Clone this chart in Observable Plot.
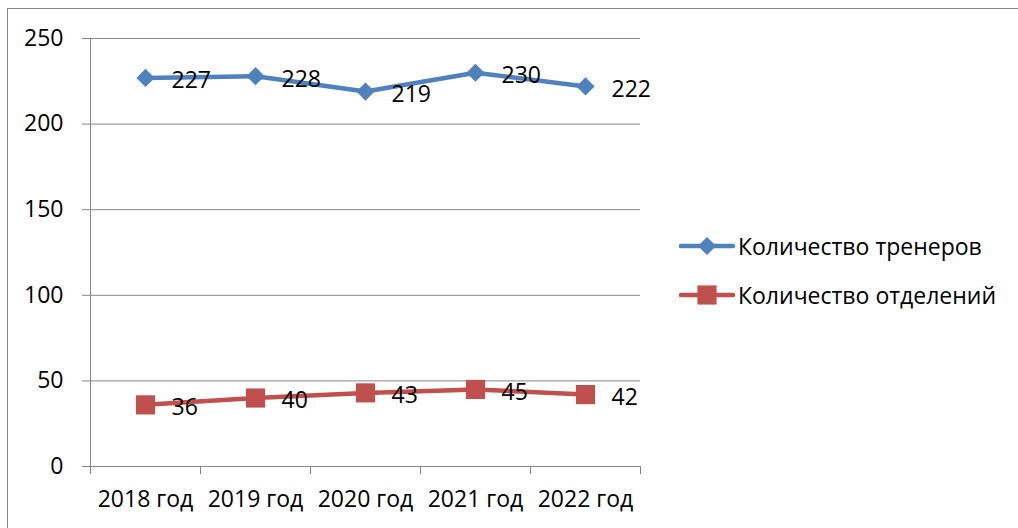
<!DOCTYPE html>
<html>
<head>
<meta charset="utf-8">
<script src="https://cdn.jsdelivr.net/npm/d3@7"></script>
<script src="https://cdn.jsdelivr.net/npm/@observablehq/plot@0.6"></script>
<style>
  html, body { margin: 0; padding: 0; background: #fff; overflow: hidden; }
  #wrap { position: relative; width: 1018px; height: 528px; font-family: "Open Sans", sans-serif; }
  #frame { position: absolute; left: 7px; top: 8px; width: 1100px; height: 600px; border: 1px solid #878787; box-sizing: border-box; pointer-events: none; }
  #legend { position: absolute; left: 679px; top: 230px; }
  .item { display: flex; align-items: center; height: 32px; margin-bottom: 17px; font-size: 23px; color: #000; }
  .item svg { margin-right: 3px; }
</style>
</head>
<body>
<div id="wrap">
  <div id="chart"></div>
  <div id="frame"></div>
  <div id="legend"></div>
</div>
<script>
const years = ["2018 год", "2019 год", "2020 год", "2021 год", "2022 год"];
const coaches = [227, 228, 219, 230, 222];
const departments = [36, 40, 43, 45, 42];
const seriesNames = ["Количество тренеров", "Количество отделений"];
const colors = ["#4F81BD", "#C0504D"];
const yTicks = [0, 50, 100, 150, 200, 250];

const rows = [];
years.forEach((y, i) => {
  rows.push({i, year: y, value: coaches[i], series: seriesNames[0]});
  rows.push({i, year: y, value: departments[i], series: seriesNames[1]});
});
const blue = rows.filter(d => d.series === seriesNames[0]);
const red = rows.filter(d => d.series === seriesNames[1]);
const idx = years.map((_, i) => i);
const bounds = [...idx.map(i => i - 0.5), years.length - 0.5];

const font = "Open Sans, sans-serif";
const fs = 23;
const chart = Plot.plot({
  width: 1018,
  height: 528,
  marginLeft: 90,
  marginRight: 378,
  marginTop: 38,
  marginBottom: 62,
  style: {fontFamily: font, fontSize: fs + "px", color: "#000", background: "transparent"},
  x: {type: "linear", domain: [-0.5, years.length - 0.5]},
  y: {domain: [0, 250]},
  marks: [
    Plot.gridY(yTicks, {stroke: "#868686", strokeOpacity: 1, strokeWidth: 1}),
    Plot.ruleX([-0.5], {stroke: "#868686", strokeWidth: 1}),
    Plot.ruleY([0], {stroke: "#868686", strokeWidth: 1}),
    Plot.axisY({ticks: yTicks, tickSize: 8, tickPadding: 19, stroke: "#868686", fill: "#000", fontSize: fs, label: null}),
    Plot.axisX({ticks: bounds, tickSize: 8, tickFormat: () => "", stroke: "#868686", label: null}),
    Plot.axisX({ticks: idx, tickSize: 0, tickPadding: 24, tickFormat: i => years[i], fill: "#000", fontSize: fs, label: null}),
    Plot.line(blue, {x: "i", y: "value", stroke: colors[0], strokeWidth: 4.5}),
    Plot.line(red, {x: "i", y: "value", stroke: colors[1], strokeWidth: 4.5}),
    Plot.dot(blue, {x: "i", y: "value", symbol: "diamond2", r: 8.2, fill: colors[0], stroke: "none"}),
    Plot.dot(red, {x: "i", y: "value", symbol: "square", r: 10.8, fill: colors[1], stroke: "none"}),
    Plot.text(rows, {x: "i", y: "value", text: d => String(d.value), textAnchor: "start", dx: 26, dy: 3, fontSize: fs, fill: "#000"})
  ]
});
document.getElementById("chart").appendChild(chart);

// Legend
const legend = d3.select("#legend");
seriesNames.forEach((name, k) => {
  const item = legend.append("div").attr("class", "item");
  const svg = item.append("svg").attr("width", 56).attr("height", 32);
  svg.append("line").attr("x1", 2).attr("x2", 54).attr("y1", 16).attr("y2", 16)
    .attr("stroke", colors[k]).attr("stroke-width", 4.5).attr("stroke-linecap", "round");
  const sym = k === 0 ? d3.symbol(d3.symbolDiamond2, Math.PI * 8.2 * 8.2) : d3.symbol(d3.symbolSquare, Math.PI * 10.8 * 10.8);
  svg.append("path").attr("d", sym()).attr("transform", "translate(28,16)").attr("fill", colors[k]);
  item.append("span").text(name);
});
</script>
</body>
</html>
